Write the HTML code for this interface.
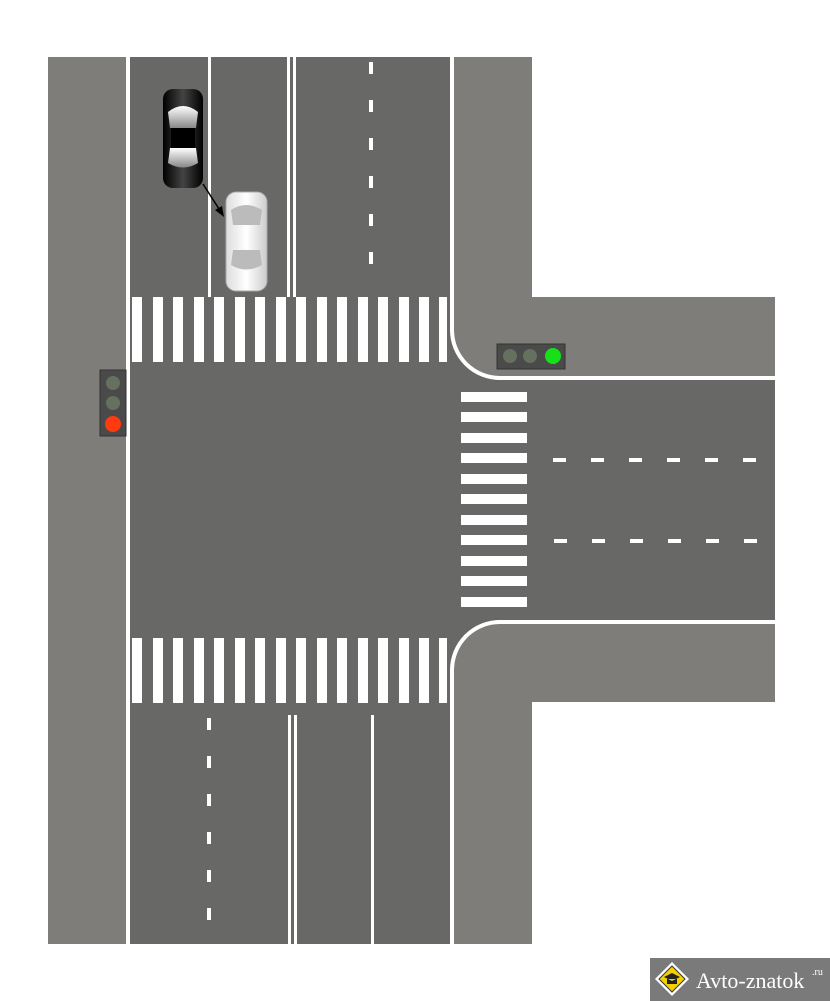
<!DOCTYPE html>
<html><head><meta charset="utf-8"><style>
body{margin:0;background:#fff;width:830px;height:1001px;overflow:hidden;position:relative;font-family:"Liberation Serif",serif}
</style></head><body>
<svg width="830" height="1001" viewBox="0 0 830 1001" style="position:absolute;left:0;top:0">
<defs>
<linearGradient id="bl" x1="0" x2="1"><stop offset="0" stop-color="#000"/><stop offset=".5" stop-color="#444"/><stop offset="1" stop-color="#000"/></linearGradient>
<linearGradient id="wh" x1="0" x2="1"><stop offset="0" stop-color="#ddd"/><stop offset=".5" stop-color="#fff"/><stop offset="1" stop-color="#ccc"/></linearGradient>
<linearGradient id="gl" x1="0" y1="0" x2="0" y2="1"><stop offset="0" stop-color="#fff"/><stop offset="1" stop-color="#888"/></linearGradient>
</defs>
<rect x="48" y="57" width="80" height="887" fill="#7e7d7a"/>
<path d="M454 57 H532 V297 H775 V378 H500 A46 46 0 0 1 454 332 Z" fill="#7e7d7a"/>
<path d="M454 944 H532 V702 H775 V622 H500 A46 46 0 0 0 454 668 Z" fill="#7e7d7a"/>
<rect x="130" y="57" width="322" height="887" fill="#686866"/>
<rect x="452" y="380" width="323" height="240" fill="#686866"/>
<path d="M452 330 A50 50 0 0 0 500 380 H452Z M452 670 A50 50 0 0 1 500 620 H452Z" fill="#686866"/>
<rect x="126" y="57" width="4" height="887" fill="#fff"/>
<path d="M452 57 V330 A48 48 0 0 0 500 378 H775" fill="none" stroke="#fff" stroke-width="4"/>
<path d="M452 944 V670 A48 48 0 0 1 500 622 H775" fill="none" stroke="#fff" stroke-width="4"/>
<g fill="#fff">
<rect x="208" y="57" width="3" height="240"/>
<rect x="287" y="57" width="3" height="240"/><rect x="293" y="57" width="3" height="240"/>
<rect x="288" y="715" width="3" height="229"/><rect x="294" y="715" width="3" height="229"/>
<rect x="371" y="715" width="3" height="229"/>
</g>
<g stroke="#fff" stroke-width="4">
<line x1="371" y1="62" x2="371" y2="270" stroke-dasharray="12 26"/>
<line x1="209" y1="718" x2="209" y2="944" stroke-dasharray="12 26"/>
<line x1="553" y1="460" x2="760" y2="460" stroke-dasharray="13 25"/>
<line x1="554" y1="541" x2="760" y2="541" stroke-dasharray="13 25"/>
</g>
<g fill="#fff" id="cw">
<rect x="132" y="297" width="10" height="65"/><rect x="153" y="297" width="10" height="65"/><rect x="173" y="297" width="10" height="65"/><rect x="194" y="297" width="10" height="65"/><rect x="214" y="297" width="10" height="65"/><rect x="235" y="297" width="10" height="65"/><rect x="255" y="297" width="10" height="65"/><rect x="276" y="297" width="10" height="65"/><rect x="296" y="297" width="10" height="65"/><rect x="317" y="297" width="10" height="65"/><rect x="337" y="297" width="10" height="65"/><rect x="358" y="297" width="10" height="65"/><rect x="378" y="297" width="10" height="65"/><rect x="399" y="297" width="10" height="65"/><rect x="419" y="297" width="10" height="65"/><rect x="439" y="297" width="8" height="65"/>
</g>
<use href="#cw" y="341"/>
<g fill="#fff">
<rect x="461" y="392" width="66" height="10"/><rect x="461" y="412" width="66" height="10"/><rect x="461" y="433" width="66" height="10"/><rect x="461" y="453" width="66" height="10"/><rect x="461" y="474" width="66" height="10"/><rect x="461" y="494" width="66" height="10"/><rect x="461" y="515" width="66" height="10"/><rect x="461" y="535" width="66" height="10"/><rect x="461" y="556" width="66" height="10"/><rect x="461" y="576" width="66" height="10"/><rect x="461" y="597" width="66" height="10"/>
</g>
<rect x="100" y="370" width="26" height="66" fill="#4a4a4a" stroke="#333"/>
<circle cx="113" cy="383" r="7" fill="#66705f"/><circle cx="113" cy="403" r="7" fill="#66705f"/><circle cx="113" cy="424" r="8" fill="#ff3a10"/>
<rect x="497" y="344" width="68" height="25" fill="#4a4a4a" stroke="#333"/>
<circle cx="510" cy="356" r="7" fill="#66705f"/><circle cx="530" cy="356" r="7" fill="#66705f"/><circle cx="553" cy="356" r="8" fill="#18e018"/>
<rect x="163" y="89" width="40" height="99" rx="10" fill="url(#bl)"/>
<path d="M168 112 Q183 100 198 112 L196 128 H170Z" fill="url(#gl)"/>
<path d="M168 163 Q183 172 198 163 L196 148 H170Z" fill="url(#gl)"/>
<rect x="171" y="128" width="24" height="20" fill="#000"/>
<rect x="226" y="192" width="41" height="99" rx="10" fill="url(#wh)" stroke="#aaa"/>
<path d="M231 210 Q246 200 262 210 L260 225 H233Z" fill="#bbb"/>
<path d="M231 265 Q246 274 262 265 L260 250 H233Z" fill="#bbb"/>
<line x1="203" y1="184" x2="221" y2="212" stroke="#000" stroke-width="1.5"/>
<path d="M224 217 L215 210 L222 206Z" fill="#000"/>
<rect x="650" y="958" width="180" height="43" fill="#7a7a7a"/>
<path d="M672 962 L689 979 L672 996 L655 979Z" fill="#fff"/>
<path d="M672 966 L685 979 L672 992 L659 979Z" fill="#f5d000" stroke="#333" stroke-width="1"/>
<path d="M664 977 L672 973 L680 977 L672 981Z M667 979 V984 H677 V979" fill="#222"/>
<text x="696" y="988" font-family="Liberation Serif,serif" font-size="22" fill="#fff">Avto-znatok</text>
<text x="812" y="975" font-family="Liberation Serif,serif" font-size="10" fill="#fff">.ru</text>
</svg>
</body></html>
